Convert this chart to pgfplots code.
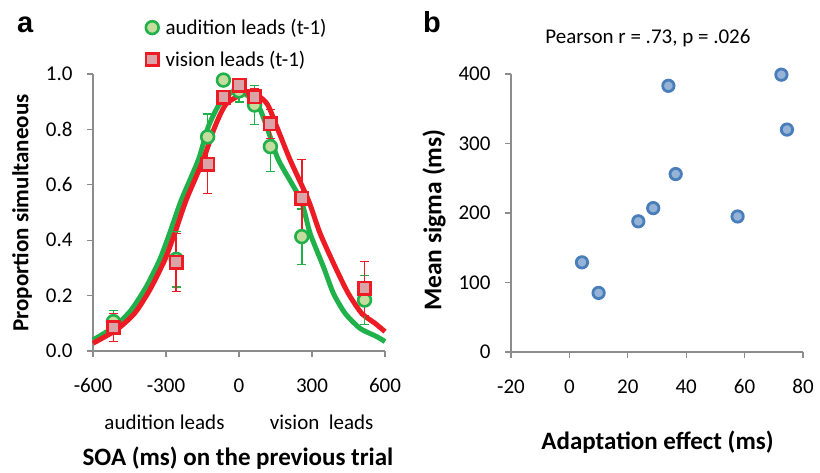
\documentclass[border=0pt]{standalone}
\usepackage{fontspec}
\setmainfont{Carlito}
\newfontfamily\arialfont{Liberation Sans}
\usepackage{pgfplots}
\pgfplotsset{compat=1.18}
\definecolor{gline}{HTML}{21B14B}
\definecolor{gfill}{HTML}{C5DC9F}
\definecolor{rline}{HTML}{ED1C24}
\definecolor{rfill}{HTML}{D9A3A8}
\definecolor{bline}{HTML}{4A7EBB}
\definecolor{bfill}{HTML}{95B3D7}
\definecolor{axgray}{HTML}{8C8C8C}
\pgfplotsset{
  panel/.style={
    scale only axis, clip=false,
    axis lines=left,
    axis line style={-, draw=axgray, line width=1.3pt},
    tick style={draw=axgray, line width=1.3pt},
    tick align=outside, major tick length=6pt,
    ticklabel style={font=\fontsize{21}{24}\selectfont, text=black},
    /pgf/number format/assume math mode=true,
  }
}
\begin{document}
\begin{tikzpicture}
\useasboundingbox (0pt,0pt) rectangle (820pt,473pt);
% ---------------- panel a
\begin{axis}[panel,
  at={(93pt,122pt)}, anchor=south west,
  width=292pt, height=277pt,
  xmin=-600, xmax=600, ymin=0, ymax=1,
  xtick={-600,-300,0,300,600},
  xticklabels={-600,-300,0,300,600},
  ytick={0,0.2,0.4,0.6,0.8,1.0},
  yticklabels={0.0,0.2,0.4,0.6,0.8,1.0},
  xticklabel style={yshift=-18pt},
  yticklabel style={xshift=-11pt},
  legend cell align=left,
  legend style={draw=none, fill=none, font=\fontsize{21}{24}\selectfont,
    at={(0.494,1.11)}, anchor=center, row sep=11pt,
    /tikz/every odd column/.append style={column sep=5pt}},
]
\addplot[gline, line width=5pt, smooth, tension=0.4, forget plot] coordinates {
(-600,0.040) (-511,0.088) (-443,0.148) (-381,0.232) (-326,0.329) (-285,0.425)
(-237,0.545) (-167,0.690) (-126,0.810) (-78,0.894) (-10,0.942) (73,0.894)
(114,0.810) (162,0.690) (254,0.545) (292,0.425) (347,0.304) (388,0.208)
(436,0.136) (497,0.082) (566,0.052) (600,0.034)};
\addplot[rline, line width=5pt, smooth, tension=0.4, forget plot] coordinates {
(-600,0.028) (-504,0.076) (-429,0.136) (-367,0.220) (-305,0.329) (-264,0.425)
(-217,0.545) (-147,0.690) (-99,0.810) (-50,0.894) (45,0.936) (114,0.894)
(155,0.810) (210,0.690) (285,0.545) (333,0.425) (395,0.304) (449,0.208)
(504,0.136) (559,0.100) (600,0.070)};
\addplot[only marks, mark=*, mark size=6.4pt, draw=gline, fill=gfill, line width=2.6pt,
  error bars/.cd, y dir=both, y explicit,
  error bar style={gline, line width=1.5pt},
  error mark options={gline, line width=1.5pt, mark size=4.5pt, rotate=90}]
coordinates {
(-516,0.106) +- (0,0.040)
(-258,0.331) +- (0,0.100)
(-129,0.773) +- (0,0.083)
(-64,0.978) +- (0,0.020)
(0,0.939) +- (0,0.040)
(64,0.888) +- (0,0.070)
(129,0.738) +- (0,0.090)
(258,0.413) +- (0,0.100)
(516,0.184) +- (0,0.088)};
\addlegendentry{audition leads (t-1)}
\addplot[only marks, mark=square*, mark size=6.2pt, draw=rline, fill=rfill, line width=2.6pt,
  error bars/.cd, y dir=both, y explicit,
  error bar style={rline, line width=1.5pt},
  error mark options={rline, line width=1.5pt, mark size=4.5pt, rotate=90}]
coordinates {
(-516,0.085) +- (0,0.050)
(-258,0.320) +- (0,0.105)
(-129,0.675) +- (0,0.106)
(-64,0.916) +- (0,0.020)
(0,0.960) +- (0,0.020)
(64,0.918) +- (0,0.030)
(129,0.820) +- (0,0.052)
(258,0.551) +- (0,0.140)
(516,0.226) +- (0,0.097)};
\addlegendentry{vision leads (t-1)}
\end{axis}
% ---------------- panel b
\begin{axis}[panel,
  at={(511pt,121pt)}, anchor=south west,
  width=292pt, height=278pt,
  xmin=-20, xmax=80, ymin=0, ymax=400,
  xtick={-20,0,20,40,60,80},
  xticklabels={-20,0,20,40,60,80},
  ytick={0,100,200,300,400},
  yticklabels={0,100,200,300,400},
  xticklabel style={yshift=-18pt},
  yticklabel style={xshift=-11pt},
]
\addplot[only marks, mark=*, mark size=5.7pt, draw=bline, fill=bfill, line width=2.8pt]
coordinates {
(4.3,129) (10.0,85) (23.6,188) (28.7,207) (33.9,383) (36.4,256)
(57.6,195) (72.6,399) (74.5,320)};
\end{axis}
% ---------------- text
\node[anchor=base west, inner sep=0] at (17pt,440pt) {\fontsize{29}{30}\selectfont\arialfont\bfseries a};
\node[anchor=base west, inner sep=0] at (423pt,440pt) {\fontsize{29}{30}\selectfont\arialfont\bfseries b};
\node[rotate=90, inner sep=0, font=\fontsize{23}{26}\selectfont\bfseries] at (22pt,260pt) {Proportion simultaneous};
\node[anchor=base, inner sep=0, font=\fontsize{21}{24}\selectfont] at (164.5pt,43pt) {audition leads};
\node[anchor=base, inner sep=0, font=\fontsize{21}{24}\selectfont] at (321.7pt,43pt) {vision\ \ leads};
\node[anchor=base, inner sep=0, font=\fontsize{25}{28}\selectfont\bfseries] at (238pt,7pt) {SOA (ms) on the previous trial};
\node[rotate=90, inner sep=0, font=\fontsize{25.5}{28}\selectfont\bfseries] at (434pt,253pt) {Mean sigma (ms)};
\node[anchor=base, inner sep=0, font=\fontsize{25}{28}\selectfont\bfseries] at (657.5pt,23pt) {Adaptation effect (ms)};
\node[anchor=base, inner sep=0, font=\fontsize{21}{24}\selectfont] at (648pt,429pt) {Pearson r = .73, p = .026};
\end{tikzpicture}
\end{document}
